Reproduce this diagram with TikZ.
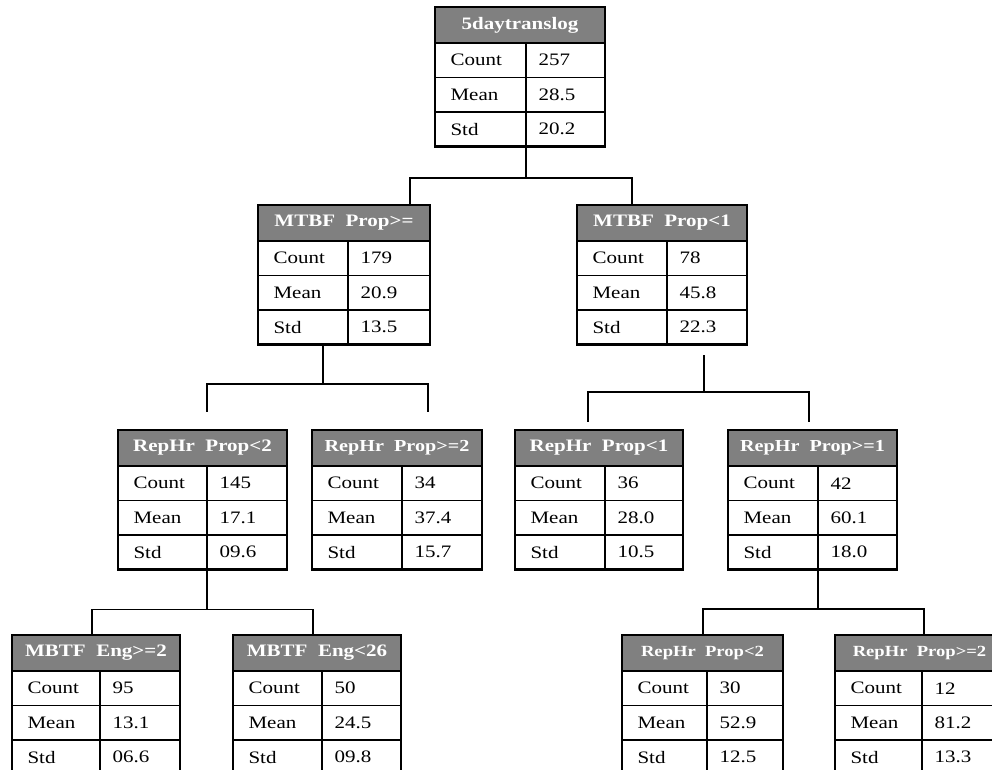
\documentclass[tikz,border=0pt]{standalone}
\usepackage{fontspec}
\setmainfont{Liberation Serif}[FakeStretch=1.2]
\usepackage{tikz}

% Mindre tittelskrift
\newcommand{\liten}{\fontsize{15.5}{17}\selectfont}
\newcommand{\mellom}{\fontsize{16.8}{18}\selectfont}

% Tabellboks: navn, posisjon, bredde, delelinje, tittel, count, mean, std
\newcommand{\tabell}[8]{%
  \path node[boks, minimum width=#3pt, anchor=north west] (#1) at (#2) {};
  \fill[hode] (#1.north west) rectangle ([yshift=-36pt]#1.north east);
  \node[hodetekst] (#1-h) at ([yshift=-18pt]#1.north) {#5};
  \draw[celle] ([yshift=-36pt]#1.north west) -- ([yshift=-36pt]#1.north east);
  \draw[celle] ([yshift=-70.5pt]#1.north west) -- ([yshift=-70.5pt]#1.north east);
  \draw[celle] ([yshift=-105pt]#1.north west) -- ([yshift=-105pt]#1.north east);
  \draw[celle] ([xshift=#4pt,yshift=-36pt]#1.north west) -- ([xshift=#4pt]#1.south west);
  \node[celletekst] (#1-c) at ([xshift=12pt,yshift=-53.25pt]#1.north west) {Count};
  \node[celletekst] (#1-m) at ([xshift=12pt,yshift=-87.75pt]#1.north west) {Mean};
  \node[celletekst] (#1-s) at ([xshift=12pt,yshift=-122.25pt]#1.north west) {Std};
  \node[celletekst] (#1-cv) at ([xshift=#4pt+9pt,yshift=-53.25pt]#1.north west) {#6};
  \node[celletekst] (#1-mv) at ([xshift=#4pt+9pt,yshift=-87.75pt]#1.north west) {#7};
  \node[celletekst] (#1-sv) at ([xshift=#4pt+9pt,yshift=-122.25pt]#1.north west) {#8};
  \draw[ramme] (#1.north west) rectangle (#1.south east);
}

\begin{document}
\begin{tikzpicture}[x=1pt, y=-1pt,
    every node/.style={font=\fontsize{17.5}{19}\selectfont},
    boks/.style={minimum height=139.5pt, inner sep=0pt, outer sep=0pt},
    ramme/.style={draw=black, line width=2.8pt},
    hode/.style={fill=black!50},
    hodetekst/.style={text=white, font=\fontsize{17.5}{19}\selectfont\bfseries},
    celle/.style={draw=black, line width=1.2pt},
    celletekst/.style={anchor=west},
    kant/.style={draw=black, line width=1.1pt}]
  \useasboundingbox (0,0) rectangle (992,770);
  \clip (0,0) rectangle (992,770);
  % Rot
  \tabell{rot}{435,7}{170}{91}{5daytranslog}{257}{28.5}{20.2}
  % Nivaa 2
  \tabell{mtbfA}{258,205}{172}{90}{MTBF\ \ Prop>=}{179}{20.9}{13.5}
  \tabell{mtbfB}{577,205}{170}{90}{MTBF\ \ Prop<1}{78}{45.8}{22.3}
  % Nivaa 3
  \tabell{repA}{118,430}{169}{89}{RepHr\ \ Prop<2}{145}{17.1}{09.6}
  \tabell{repB}{312,430}{170}{90}{\mellom RepHr\ \ Prop>=2}{34}{37.4}{15.7}
  \tabell{repC}{515,430}{168}{90}{RepHr\ \ Prop<1}{36}{28.0}{10.5}
  \tabell{repD}{728,430}{169}{90}{\mellom RepHr\ \ Prop>=1}{42}{60.1}{18.0}
  % Nivaa 4
  \tabell{mbtfA}{12,635}{168}{88}{MBTF\ \ Eng>=2}{95}{13.1}{06.6}
  \tabell{mbtfB}{233,635}{168}{89}{MBTF\ \ Eng<26}{50}{24.5}{09.8}
  \tabell{repE}{622,635}{161}{85}{\liten RepHr\ \ Prop<2}{30}{52.9}{12.5}
  \tabell{repF}{835,635}{169}{87}{\liten RepHr\ \ Prop>=2}{12}{81.2}{13.3}
  % Forbindelser
  \draw[kant] ([xshift=91pt]rot.south west) -- ++(0,31.5) coordinate (k1);
  \draw[kant] (k1) -| ([xshift=152pt]mtbfA.north west);
  \draw[kant] (k1) -| ([xshift=55pt]mtbfB.north west);
  \draw[kant] ([xshift=65pt]mtbfA.south west) -- ++(0,39.5) coordinate (k2);
  \draw[kant] (k2) -| ([xshift=89pt,yshift=18pt]repA.north west);
  \draw[kant] (k2) -| ([xshift=116pt,yshift=18pt]repB.north west);
  \draw[kant] ([xshift=127pt,yshift=-10.5pt]mtbfB.south west) -- ++(0,37) coordinate (k3);
  \draw[kant] (k3) -| ([xshift=73pt,yshift=8pt]repC.north west);
  \draw[kant] (k3) -| ([xshift=81pt,yshift=8pt]repD.north west);
  \draw[kant] ([xshift=89pt]repA.south west) -- ++(0,40) coordinate (k4);
  \draw[kant] (k4) -| ([xshift=80pt]mbtfA.north west);
  \draw[kant] (k4) -| ([xshift=80pt]mbtfB.north west);
  \draw[kant] ([xshift=90pt]repD.south west) -- ++(0,39.5) coordinate (k5);
  \draw[kant] (k5) -| ([xshift=81pt]repE.north west);
  \draw[kant] (k5) -| ([xshift=89pt]repF.north west);
\end{tikzpicture}
\end{document}
